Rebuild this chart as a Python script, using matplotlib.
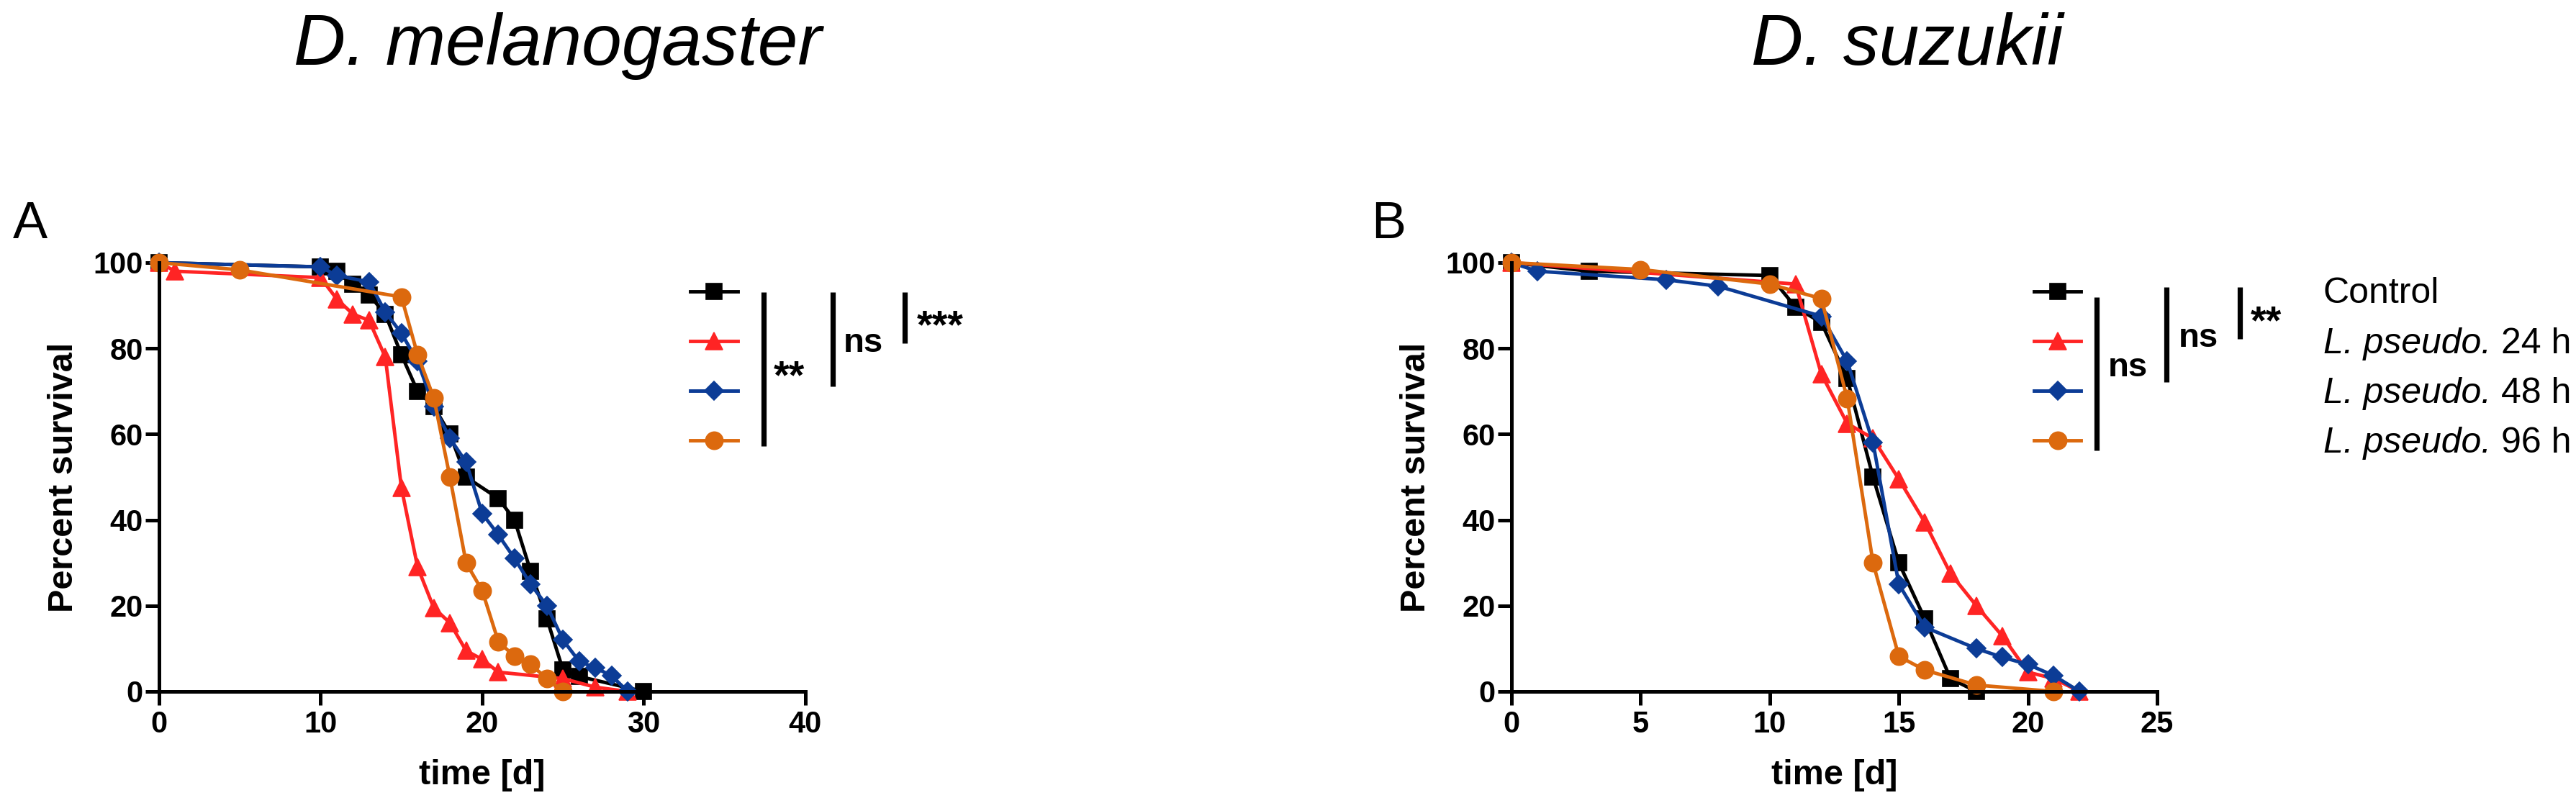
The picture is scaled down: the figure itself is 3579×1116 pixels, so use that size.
import matplotlib
matplotlib.use("Agg")
import matplotlib.pyplot as plt
from matplotlib.lines import Line2D

plt.rcParams['font.family'] = ['Liberation Sans', 'DejaVu Sans']

# ---------------- data ----------------
series_labels = ["Control", "24 h", "48 h", "96 h"]
colors = ["#000000", "#FF2424", "#0C3C96", "#DC690E"]
markers = ["s", "^", "D", "o"]
msizes = [16.5, 17.5, 13.5, 17.5]

# Panel A: D. melanogaster
a_ctrl_t = [0, 10, 11, 12, 13, 14, 15, 16, 17, 18, 19, 21, 22, 23, 24, 25, 26, 30]
a_ctrl_s = [100, 99, 98, 95, 92.5, 88, 78.5, 70, 66.5, 60, 50, 45, 40, 28, 17, 5, 3.5, 0]
a_24_t = [0, 1, 10, 11, 12, 13, 14, 15, 16, 17, 18, 19, 20, 21, 25, 27, 29]
a_24_s = [100, 98, 96.5, 91.5, 88, 86.5, 78, 47.5, 29, 19.5, 16, 9.5, 7.5, 4.5, 3, 1, 0]
a_48_t = [0, 10, 11, 13, 14, 15, 16, 17, 18, 19, 20, 21, 22, 23, 24, 25, 26, 27, 28, 29]
a_48_s = [100, 99, 97, 95.5, 88.5, 83.5, 77, 66.5, 59, 53.5, 41.5, 36.5, 31, 25, 20, 12, 7, 5.5, 3.7, 0]
a_96_t = [0, 5, 15, 16, 17, 18, 19, 20, 21, 22, 23, 24, 25]
a_96_s = [100, 98.3, 92, 78.5, 68.5, 50, 30, 23.5, 11.6, 8.2, 6.3, 3, 0]

# Panel B: D. suzukii
b_ctrl_t = [0, 3, 10, 11, 12, 13, 14, 15, 16, 17, 18]
b_ctrl_s = [100, 98, 97, 89.6, 86, 73, 50, 30, 17, 3, 0]
b_24_t = [0, 11, 12, 13, 14, 15, 16, 17, 18, 19, 20, 21, 22]
b_24_s = [100, 95, 74, 62.5, 59, 49.5, 39.5, 27.5, 20, 13, 4.5, 3, 0]
b_48_t = [0, 1, 6, 8, 12, 13, 14, 15, 16, 18, 19, 20, 21, 22]
b_48_s = [100, 98, 96, 94.5, 87.5, 77, 58, 25, 15, 10, 8, 6.3, 3.7, 0]
b_96_t = [0, 5, 10, 12, 13, 14, 15, 16, 18, 21]
b_96_s = [100, 98.4, 95, 91.6, 68.3, 30, 8.2, 5, 1.5, 0]

a_xticks = [0, 10, 20, 30, 40]
b_xticks = [0, 5, 10, 15, 20, 25]
yticks = [0, 20, 40, 60, 80, 100]

titles = ["D. melanogaster", "D. suzukii"]
panel_letters = ["A", "B"]
a_sig = ["**", "ns", "***"]
b_sig = ["ns", "ns", "**"]
legend_italic = ["", "L. pseudo.", "L. pseudo.", "L. pseudo."]
legend_plain = ["Control", "24 h", "48 h", "96 h"]

# ---------------- figure ----------------
W, H = 3580, 1116
fig = plt.figure(figsize=(W / 100, H / 100), dpi=100)


def fx(x):
    return x / W


def fy(y):
    return 1 - y / H


ax_top, ax_bot = 365, 961
axA = fig.add_axes([fx(221), fy(ax_bot), (1119 - 221) / W, (ax_bot - ax_top) / H])
axB = fig.add_axes([fx(2100), fy(ax_bot), (2997 - 2100) / W, (ax_bot - ax_top) / H])

LW = 3.5
SPINE = 3.6


def style_axis(ax, xmax, xticks):
    ax.set_xlim(0, xmax)
    ax.set_ylim(0, 100)
    ax.set_xticks(xticks)
    ax.set_yticks(yticks)
    for s in ["top", "right"]:
        ax.spines[s].set_visible(False)
    for s in ["left", "bottom"]:
        ax.spines[s].set_linewidth(SPINE)
    ax.tick_params(axis="both", direction="out", length=14, width=SPINE,
                   labelsize=30)
    ax.tick_params(axis="x", pad=5)
    ax.tick_params(axis="y", pad=2)
    for lab in ax.get_xticklabels() + ax.get_yticklabels():
        lab.set_fontweight("bold")
    ax.set_ylabel("Percent survival", fontsize=35, fontweight="bold", va="center")
    ax.yaxis.set_label_coords(-0.148, 0.5)
    ax.set_xlabel("time [d]", fontsize=35, fontweight="bold", va="center")
    ax.xaxis.set_label_coords(0.5, -0.196)


def plot_series(ax, data):
    for (t, s), c, m, ms in zip(data, colors, markers, msizes):
        ax.plot(t, s, color=c, marker=m, markersize=ms, lw=LW,
                markeredgecolor=c, markeredgewidth=1.2, clip_on=False)


plot_series(axA, [(a_ctrl_t, a_ctrl_s), (a_24_t, a_24_s), (a_48_t, a_48_s), (a_96_t, a_96_s)])
plot_series(axB, [(b_ctrl_t, b_ctrl_s), (b_24_t, b_24_s), (b_48_t, b_48_s), (b_96_t, b_96_s)])
style_axis(axA, 40, a_xticks)
style_axis(axB, 25, b_xticks)

# titles and panel letters
fig.text(fx(775), fy(90), titles[0], style="italic", fontsize=72, ha="center", va="baseline")
fig.text(fx(2650), fy(90), titles[1], style="italic", fontsize=72, ha="center", va="baseline")
fig.text(fx(18), fy(331), panel_letters[0], fontsize=52, ha="left", va="baseline")
fig.text(fx(1905), fy(331), panel_letters[1], fontsize=52, ha="left", va="baseline")

# legend handles
rows = [405, 474, 543, 612]


def legend_handles(x0, x1):
    xm = (x0 + x1) / 2
    for y, c, m, ms in zip(rows, colors, markers, msizes):
        fig.add_artist(Line2D([fx(x0), fx(x1)], [fy(y), fy(y)], transform=fig.transFigure,
                              color=c, lw=LW))
        fig.add_artist(Line2D([fx(xm)], [fy(y)], transform=fig.transFigure, color=c,
                              marker=m, markersize=ms, markeredgecolor=c,
                              markeredgewidth=1.2, lw=0))


def sig_bar(x, y0, y1):
    fig.add_artist(Line2D([fx(x), fx(x)], [fy(y0), fy(y1)], transform=fig.transFigure,
                          color="black", lw=5.2, solid_capstyle="butt"))


def sig_text(x, y, s):
    if "*" in s:
        fig.text(fx(x), fy(y), s, fontsize=40, fontweight="bold", ha="left", va="baseline")
    else:
        fig.text(fx(x), fy(y), s, fontsize=34, fontweight="bold", ha="left", va="baseline")


legend_handles(959, 1025)
sig_bar(1061, 406, 620)
sig_bar(1157, 406, 537)
sig_bar(1257, 406, 477)
sig_text(1075, 539, a_sig[0])
sig_text(1172, 489, a_sig[1])
sig_text(1274, 469, a_sig[2])

legend_handles(2826, 2891)
sig_bar(2913, 413, 626)
sig_bar(3010, 399, 531)
sig_bar(3112, 399, 471)
sig_text(2929, 523, b_sig[0])
sig_text(3027, 482, b_sig[1])
sig_text(3127, 463, b_sig[2])

# legend labels: italic genus/species abbreviation followed by plain text
renderer = fig.canvas.get_renderer()
space_px = 0.278 * 50
for y, it, pl in zip([421, 491, 560, 629], legend_italic, legend_plain):
    x = 3228
    if it:
        t = fig.text(fx(x), fy(y), it, fontsize=36, style="italic", ha="left", va="baseline")
        bb = t.get_window_extent(renderer)
        x = bb.x1 + space_px
    fig.text(fx(x), fy(y), pl, fontsize=36, ha="left", va="baseline")

fig.savefig("out.png", dpi=100)
